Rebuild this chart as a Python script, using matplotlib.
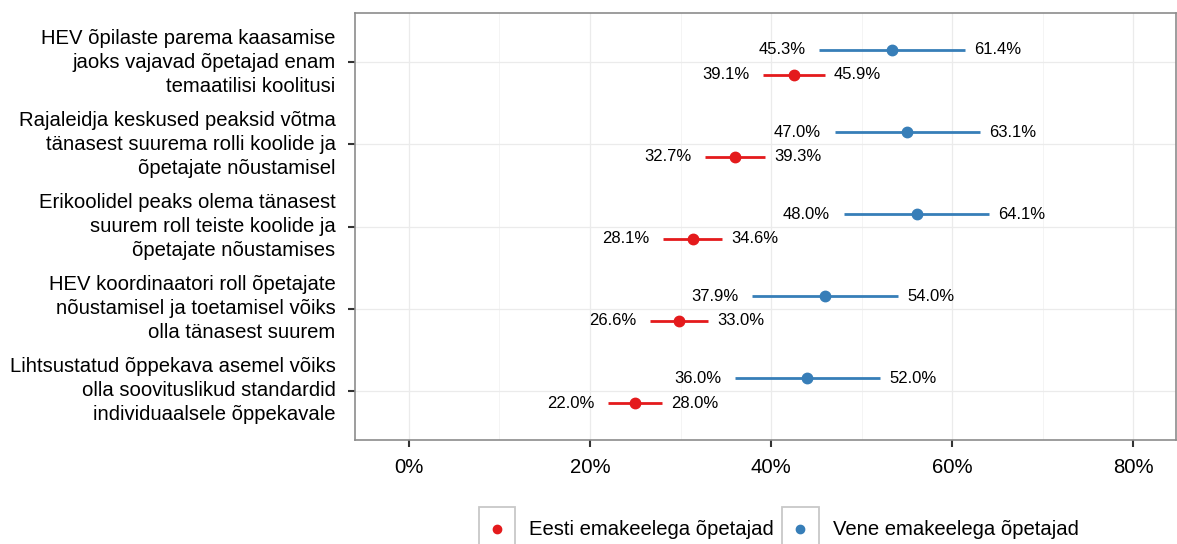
import matplotlib
matplotlib.use('Agg')
import matplotlib.pyplot as plt
from matplotlib.legend_handler import HandlerBase
from matplotlib.lines import Line2D
from matplotlib.patches import Rectangle
from matplotlib.ticker import FixedLocator

plt.rcParams['font.family'] = ['Liberation Sans', 'DejaVu Sans']

# statements, top to bottom
labels = [
    'HEV õpilaste parema kaasamise\njaoks vajavad õpetajad enam\ntemaatilisi koolitusi',
    'Rajaleidja keskused peaksid võtma\ntänasest suurema rolli koolide ja\nõpetajate nõustamisel',
    'Erikoolidel peaks olema tänasest\nsuurem roll teiste koolide ja\nõpetajate nõustamises',
    'HEV koordinaatori roll õpetajate\nnõustamisel ja toetamisel võiks\nolla tänasest suurem',
    'Lihtsustatud õppekava asemel võiks\nolla soovituslikud standardid\nindividuaalsele õppekavale',
]

# Eesti emakeelega õpetajad (red)
est_low = [39.1, 32.7, 28.1, 26.6, 22.0]
est_high = [45.9, 39.3, 34.6, 33.0, 28.0]
est_mid = [42.5, 36.0, 31.35, 29.8, 25.0]

# Vene emakeelega õpetajad (blue)
rus_low = [45.3, 47.0, 48.0, 37.9, 36.0]
rus_high = [61.4, 63.1, 64.1, 54.0, 52.0]
rus_mid = [53.35, 55.05, 56.05, 45.95, 44.0]

red = '#e41a1c'
blue = '#377eb8'
fs = 14.6
fs_ann = 12


class KeyHandler(HandlerBase):
    def create_artists(self, legend, orig_handle, xdescent, ydescent,
                       width, height, fontsize, trans):
        box = Rectangle((-xdescent, -ydescent), width, height, fc='white',
                        ec='#c8c8c8', lw=1.3, transform=trans)
        dot = Line2D([width / 2 - xdescent], [height / 2 - ydescent], marker='o',
                     ls='none', color=orig_handle.get_color(), ms=6, transform=trans)
        return [box, dot]


fig = plt.figure(figsize=(11.77, 5.44), dpi=100)
ax = fig.add_axes([355 / 1177, 1 - 440 / 544, (1176 - 355) / 1177, (440 - 13) / 544])

n = len(labels)
ypos = [n - i for i in range(n)]
off = 0.15

for i, y in enumerate(ypos):
    yr = y + off
    ax.plot([rus_low[i], rus_high[i]], [yr, yr], color=blue, lw=2, solid_capstyle='butt', zorder=3)
    ax.plot(rus_mid[i], yr, 'o', color=blue, ms=7.5, zorder=4)
    ax.text(rus_low[i] - 1.5, yr, f'{rus_low[i]:.1f}%', ha='right', va='center', fontsize=fs_ann)
    ax.text(rus_high[i] + 1.0, yr, f'{rus_high[i]:.1f}%', ha='left', va='center', fontsize=fs_ann)

    ye = y - off
    ax.plot([est_low[i], est_high[i]], [ye, ye], color=red, lw=2, solid_capstyle='butt', zorder=3)
    ax.plot(est_mid[i], ye, 'o', color=red, ms=7.5, zorder=4)
    ax.text(est_low[i] - 1.5, ye, f'{est_low[i]:.1f}%', ha='right', va='center', fontsize=fs_ann)
    ax.text(est_high[i] + 1.0, ye, f'{est_high[i]:.1f}%', ha='left', va='center', fontsize=fs_ann)

ax.set_xlim(-5.95, 84.7)
ax.set_ylim(0.4, n + 0.6)
ax.set_xticks([0, 20, 40, 60, 80])
ax.set_xticklabels(['0%', '20%', '40%', '60%', '80%'])
ax.xaxis.set_minor_locator(FixedLocator([10, 30, 50, 70]))
ax.set_yticks(ypos)
ax.set_yticklabels(labels, fontsize=fs, linespacing=1.34, va='center')
ax.tick_params(axis='x', labelsize=fs)
ax.tick_params(axis='both', which='major', length=5, width=1.5, color='#333333')
ax.tick_params(axis='x', which='major', pad=8)
ax.tick_params(axis='y', which='major', pad=9)
ax.tick_params(axis='x', which='minor', length=0)
ax.grid(True, which='major', color='#ebebeb', lw=0.9)
ax.grid(True, which='minor', axis='x', color='#f4f4f4', lw=0.7)
ax.set_axisbelow(True)
for s in ax.spines.values():
    s.set_color('#8c8c8c')
    s.set_linewidth(1.2)

h_est = Line2D([], [], color=red, marker='o')
h_rus = Line2D([], [], color=blue, marker='o')
fig.legend([h_est, h_rus], ['Eesti emakeelega õpetajad', 'Vene emakeelega õpetajad'],
           handler_map={Line2D: KeyHandler()}, loc='center', ncol=2,
           bbox_to_anchor=(0.6615, 0.0276), frameon=False, fontsize=fs,
           handlelength=1.8, handleheight=3.0, handletextpad=0.7,
           columnspacing=0.4, borderaxespad=0, borderpad=0)

fig.savefig('out.png', dpi=100)
